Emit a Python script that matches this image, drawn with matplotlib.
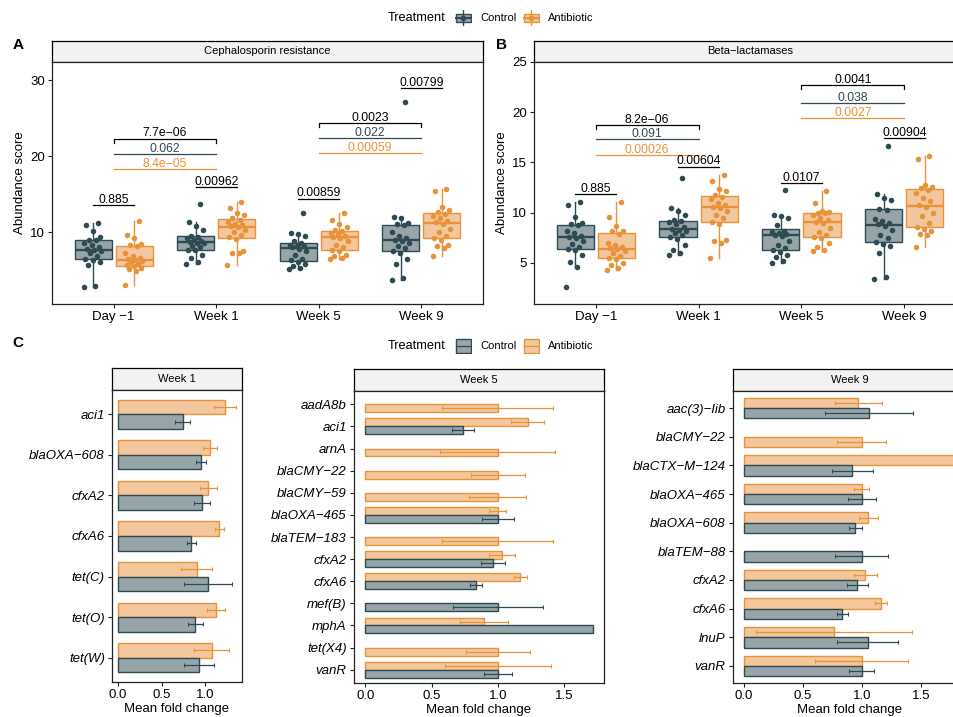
import numpy as np
import matplotlib.pyplot as plt
from matplotlib.patches import Rectangle

plt.rcParams['font.family'] = ['Liberation Sans', 'DejaVu Sans']

ctrl_line = '#2F4A53'
ctrl_fill = '#97A5A9'
abx_line = '#E8923A'
abx_fill = '#F3C79D'
strip_fill = '#F2F2F2'

timepoints = ['Day −1', 'Week 1', 'Week 5', 'Week 9']

# A - cephalosporin resistance abundance scores
ceph_ctrl = [
    [2.8, 2.9, 5.6, 6.0, 6.3, 6.5, 6.9, 7.2, 7.5, 7.6, 7.8, 8.0, 8.3, 8.6, 8.9, 9.0, 9.4, 10.1, 10.9, 11.2],
    [5.8, 6.0, 6.6, 7.0, 7.6, 7.7, 8.0, 8.2, 8.5, 8.6, 8.7, 8.8, 9.0, 9.2, 9.4, 9.5, 10.3, 10.8, 11.3, 13.7],
    [5.1, 5.3, 5.5, 5.8, 6.1, 6.3, 6.5, 7.0, 7.5, 7.8, 8.0, 8.1, 8.2, 8.3, 8.5, 8.8, 9.5, 9.8, 9.9, 12.45],
    [3.7, 3.9, 5.8, 6.4, 7.3, 7.5, 7.9, 8.2, 8.6, 8.8, 9.0, 9.2, 9.5, 10.0, 10.9, 11.1, 11.2, 11.8, 12.0, 27.15],
]
ceph_abx = [
    [3.0, 4.9, 5.1, 5.3, 5.5, 5.6, 5.8, 6.0, 6.2, 6.3, 6.4, 6.6, 6.9, 7.2, 8.1, 8.3, 8.4, 9.2, 9.6, 11.4],
    [5.7, 7.2, 7.3, 7.5, 9.1, 9.3, 9.6, 10.0, 10.3, 10.6, 10.8, 10.9, 11.0, 11.3, 11.6, 11.9, 12.2, 12.5, 13.2, 14.0],
    [6.4, 6.6, 6.8, 7.0, 7.5, 7.7, 8.0, 8.3, 8.8, 9.2, 9.4, 9.5, 9.7, 9.9, 10.1, 10.3, 10.6, 11.1, 11.6, 12.5],
    [6.9, 7.9, 8.1, 8.3, 9.0, 9.2, 9.5, 10.0, 10.4, 11.0, 11.3, 11.5, 11.8, 12.1, 12.4, 12.6, 12.9, 13.3, 15.4, 15.7],
]
ceph_pair_p = ['0.885', '0.00962', '0.00859', '0.00799']
ceph_pair_y = [13.5, 15.9, 14.4, 29.0]
ceph_span_p = [['7.7e−06', '0.062', '8.4e−05'], ['0.0023', '0.022', '0.00059']]
ceph_span_y = [[22.3, 20.3, 18.3], [24.35, 22.4, 20.4]]

# B - beta-lactamases abundance scores
beta_ctrl = [
    [2.6, 4.6, 5.05, 5.8, 6.3, 6.4, 6.6, 6.9, 7.2, 7.5, 7.6, 7.7, 8.0, 8.2, 8.8, 8.9, 9.0, 9.6, 10.8, 11.1],
    [5.8, 6.0, 6.3, 6.8, 7.4, 7.6, 7.8, 8.0, 8.2, 8.3, 8.4, 8.6, 8.9, 9.1, 9.2, 9.3, 9.8, 10.2, 10.5, 13.5],
    [5.0, 5.2, 5.6, 5.8, 6.1, 6.3, 6.5, 6.8, 7.2, 7.7, 7.8, 7.9, 8.0, 8.1, 8.2, 8.8, 9.5, 9.7, 9.8, 12.3],
    [3.45, 3.6, 6.0, 6.7, 6.9, 7.1, 7.5, 7.8, 8.3, 8.7, 8.85, 9.0, 9.2, 9.4, 10.3, 10.4, 11.3, 11.5, 11.9, 16.6],
]
beta_abx = [
    [4.35, 4.5, 4.8, 5.0, 5.4, 5.5, 5.7, 6.0, 6.2, 6.4, 6.45, 6.6, 6.8, 7.0, 7.9, 8.2, 8.2, 8.7, 9.6, 11.1],
    [5.5, 7.0, 7.2, 7.3, 8.9, 9.1, 9.5, 9.8, 10.2, 10.5, 10.6, 10.8, 11.0, 11.4, 11.6, 11.8, 12.2, 12.4, 13.2, 13.8],
    [6.2, 6.3, 6.6, 7.0, 7.5, 7.6, 7.8, 8.1, 8.5, 9.0, 9.1, 9.3, 9.5, 9.8, 10.0, 10.0, 10.1, 10.2, 11.0, 12.2],
    [6.6, 7.8, 7.9, 8.2, 8.4, 8.6, 9.0, 9.7, 10.0, 10.6, 10.8, 11.2, 11.5, 12.0, 12.3, 12.5, 12.6, 12.8, 15.3, 15.6],
]
beta_pair_p = ['0.885', '0.00604', '0.0107', '0.00904']
beta_pair_y = [11.85, 14.6, 13.0, 17.4]
beta_span_p = [['8.2e−06', '0.091', '0.00026'], ['0.0041', '0.038', '0.0027']]
beta_span_y = [[18.75, 17.3, 15.75], [22.7, 20.95, 19.4]]

span_pairs = [(0, 1), (2, 3)]

# C - mean fold change per gene (nan = gene not detected in that group)
nan = np.nan
genes_w1 = ['aci1', 'blaOXA−608', 'cfxA2', 'cfxA6', 'tet(C)', 'tet(O)', 'tet(W)']
ctrl_mean_w1 = [0.74, 0.947, 0.962, 0.838, 1.026, 0.883, 0.93]
ctrl_se_w1 = [0.087, 0.055, 0.088, 0.049, 0.275, 0.085, 0.17]
abx_mean_w1 = [1.225, 1.056, 1.034, 1.16, 0.898, 1.12, 1.07]
abx_se_w1 = [0.125, 0.079, 0.097, 0.055, 0.175, 0.108, 0.196]

genes_w5 = ['aadA8b', 'aci1', 'arnA', 'blaCMY−22', 'blaCMY−59', 'blaOXA−465', 'blaTEM−183',
            'cfxA2', 'cfxA6', 'mef(B)', 'mphA', 'tet(X4)', 'vanR']
ctrl_mean_w5 = [nan, 0.74, nan, nan, nan, 1.0, nan, 0.963, 0.835, 1.0, 1.716, nan, 1.0]
ctrl_se_w5 = [nan, 0.084, nan, nan, nan, 0.12, nan, 0.092, 0.048, 0.34, 0.0, nan, 0.107]
abx_mean_w5 = [1.0, 1.227, 1.0, 1.0, 1.0, 1.0, 1.0, 1.031, 1.169, nan, 0.895, 1.0, 1.0]
abx_se_w5 = [0.42, 0.124, 0.434, 0.205, 0.215, 0.064, 0.42, 0.097, 0.05, nan, 0.18, 0.242, 0.4]

genes_w9 = ['aac(3)−Iib', 'blaCMY−22', 'blaCTX−M−124', 'blaOXA−465', 'blaOXA−608', 'blaTEM−88',
            'cfxA2', 'cfxA6', 'lnuP', 'vanR']
ctrl_mean_w9 = [1.062, nan, 0.921, 1.0, 0.946, 1.0, 0.963, 0.836, 1.051, 1.0]
ctrl_se_w9 = [0.372, nan, 0.17, 0.12, 0.052, 0.223, 0.09, 0.048, 0.258, 0.106]
abx_mean_w9 = [0.969, 1.0, 1.8, 1.0, 1.056, nan, 1.031, 1.164, 0.766, 1.0]
abx_se_w9 = [0.2, 0.206, 0.0, 0.064, 0.08, nan, 0.097, 0.051, 0.66, 0.394]

W, H = 954, 717
fig = plt.figure(figsize=(W / 100, H / 100), dpi=100)


def px(l, t, r, b):
    return [l / W, 1 - b / H, (r - l) / W, (b - t) / H]


def style_axes(ax):
    for s in ax.spines.values():
        s.set_linewidth(0.9)
        s.set_color('#222222')
    ax.tick_params(length=3.2, width=0.8, color='#222222', labelsize=9.5, pad=2)


def add_strip(box, label):
    sax = fig.add_axes(px(*box))
    sax.set_facecolor(strip_fill)
    sax.set_xticks([])
    sax.set_yticks([])
    for s in sax.spines.values():
        s.set_linewidth(0.9)
    sax.text(0.5, 0.5, label, ha='center', va='center', fontsize=8, transform=sax.transAxes)


def jitter(n):
    return 0.09 * (((np.arange(n) * 0.618034) % 1.0) * 2 - 1)


def box_panel(box, title, ctrl, abx, pair_p, pair_y, span_p, span_y, tip, ylim, yticks):
    l, t, r, b = box
    add_strip((l, t - 21, r, t), title)
    ax = fig.add_axes(px(*box))
    style_axes(ax)
    x = np.arange(len(timepoints))
    for groups, off, line, fill in [(ctrl, -0.2, ctrl_line, ctrl_fill), (abx, 0.2, abx_line, abx_fill)]:
        ax.boxplot(groups, positions=x + off, widths=0.36, patch_artist=True, showfliers=False,
                   showcaps=False, manage_ticks=False,
                   boxprops=dict(facecolor=fill, edgecolor=line, lw=1.0),
                   medianprops=dict(color=line, lw=1.7),
                   whiskerprops=dict(color=line, lw=1.0))
        for i, g in enumerate(groups):
            ax.scatter(x[i] + off + jitter(len(g)), g, s=16, color=line, zorder=3, lw=0)
    for i, (p, y) in enumerate(zip(pair_p, pair_y)):
        ax.plot([i - 0.2, i + 0.2], [y, y], color='black', lw=0.9)
        ax.annotate(p, (i, y), xytext=(0, 1.5), textcoords='offset points',
                    ha='center', va='baseline', fontsize=8.8)
    for (a, c), labels, ys in zip(span_pairs, span_p, span_y):
        for k, (lab, y, col) in enumerate(zip(labels, ys, ['black', ctrl_line, abx_line])):
            if k == 0:
                ax.plot([a, a, c, c], [y - tip, y, y, y - tip], color=col, lw=0.9)
            else:
                ax.plot([a, c], [y, y], color=col, lw=0.9)
            ax.annotate(lab, ((a + c) / 2, y), xytext=(0, 1.5), textcoords='offset points',
                        ha='center', va='baseline', fontsize=8.8, color=col)
    ax.set_xticks(x)
    ax.set_xticklabels(timepoints)
    ax.set_yticks(yticks)
    ax.set_xlim(-0.6, len(timepoints) - 0.4)
    ax.set_ylim(*ylim)
    ax.set_ylabel('Abundance score', fontsize=9.5)
    ax.yaxis.set_label_coords(-25.5 / (r - l), 0.5)
    return ax


box_panel((52, 62, 483, 304), 'Cephalosporin resistance', ceph_ctrl, ceph_abx,
          ceph_pair_p, ceph_pair_y, ceph_span_p, ceph_span_y, 0.55, (0.53, 32.37), [10, 20, 30])
box_panel((534, 62, 966, 304), 'Beta−lactamases', beta_ctrl, beta_abx,
          beta_pair_p, beta_pair_y, beta_span_p, beta_span_y, 0.38, (0.92, 25.0), [5, 10, 15, 20, 25])


def bar_panel(box, title, genes, cm, cs, am, ase):
    l, t, r, b = box
    add_strip((l, t - 22, r, t), title)
    ax = fig.add_axes(px(*box))
    style_axes(ax)
    n = len(genes)
    cm, cs, am, ase = map(np.array, (cm, cs, am, ase))
    for i in range(n):
        both = not (np.isnan(cm[i]) or np.isnan(am[i]))
        for mean, se, off, line, fill in [(am[i], ase[i], -0.18, abx_line, abx_fill),
                                          (cm[i], cs[i], 0.18, ctrl_line, ctrl_fill)]:
            if np.isnan(mean):
                continue
            pos = i + (off if both else 0.18)
            ax.barh(pos, mean, height=0.36, color=fill, edgecolor=line, lw=1.0, zorder=2)
            if se > 0:
                ax.errorbar(mean, pos, xerr=se, fmt='none', ecolor=line, elinewidth=0.9,
                            capsize=1.2, capthick=0.8, zorder=3)
    top = np.nanmax(np.concatenate([cm + np.nan_to_num(cs), am + np.nan_to_num(ase)]))
    ax.set_yticks(range(n))
    ax.set_yticklabels(genes, fontstyle='italic')
    ax.set_xticks([0.0, 0.5, 1.0, 1.5])
    ax.set_xticklabels(['0.0', '0.5', '1.0', '1.5'])
    ax.set_xlim(-0.05 * top, 1.05 * top)
    ax.set_ylim(n - 0.4, -0.6)
    ax.set_xlabel('Mean fold change', fontsize=9.5, labelpad=1)
    return ax


bar_panel((112, 390, 242, 682), 'Week 1', genes_w1, ctrl_mean_w1, ctrl_se_w1, abx_mean_w1, abx_se_w1)
bar_panel((354, 391, 604, 683), 'Week 5', genes_w5, ctrl_mean_w5, ctrl_se_w5, abx_mean_w5, abx_se_w5)
bar_panel((733, 391, 967, 683), 'Week 9', genes_w9, ctrl_mean_w9, ctrl_se_w9, abx_mean_w9, abx_se_w9)

# panel letters
for lab, xx, yy in [('A', 18, 45), ('B', 502, 45), ('C', 18, 343)]:
    fig.text(xx / W, 1 - yy / H, lab, fontsize=11, fontweight='bold', ha='center', va='center')


# legends (ggplot-style keys drawn in small key boxes)
def legend_key(l, t, r, b, line, fill, boxglyph):
    kax = fig.add_axes(px(l, t, r, b))
    kax.set_xlim(0, 1)
    kax.set_ylim(0, 1)
    kax.axis('off')
    if boxglyph:
        kax.plot([0.5, 0.5], [0.02, 0.98], color=line, lw=1.0)
        kax.add_patch(Rectangle((0.06, 0.24), 0.88, 0.52, facecolor=fill, edgecolor=line, lw=1.0))
        kax.plot([0.06, 0.94], [0.5, 0.5], color=line, lw=1.5)
        kax.scatter([0.5], [0.5], s=16, color=line, zorder=3, lw=0)
    else:
        kax.add_patch(Rectangle((0.04, 0.04), 0.92, 0.92, facecolor=fill, edgecolor=line, lw=1.0))
        kax.plot([0.04, 0.96], [0.5, 0.5], color=line, lw=0.9)


for yc, boxglyph in [(18, True), (346, False)]:
    fig.text(388 / W, 1 - yc / H, 'Treatment', fontsize=9.2, va='center', ha='left')
    legend_key(455, yc - 8, 472, yc + 8, ctrl_line, ctrl_fill, boxglyph)
    fig.text(480 / W, 1 - yc / H, 'Control', fontsize=8, va='center', ha='left')
    legend_key(523, yc - 8, 540, yc + 8, abx_line, abx_fill, boxglyph)
    fig.text(548 / W, 1 - yc / H, 'Antibiotic', fontsize=8, va='center', ha='left')

fig.savefig('out.png', dpi=100)
